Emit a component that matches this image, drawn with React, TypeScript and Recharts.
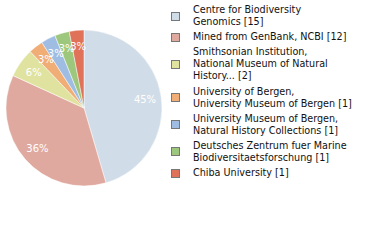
import { PieChart, Pie, Cell, Legend } from 'recharts';

const labels = [
  'Centre for Biodiversity\nGenomics [15]',
  'Mined from GenBank, NCBI [12]',
  'Smithsonian Institution,\nNational Museum of Natural\nHistory... [2]',
  'University of Bergen,\nUniversity Museum of Bergen [1]',
  'University Museum of Bergen,\nNatural History Collections [1]',
  'Deutsches Zentrum fuer Marine\nBiodiversitaetsforschung [1]',
  'Chiba University [1]',
];
const counts = [15, 12, 2, 1, 1, 1, 1];
const colors = ['#d0dce7', '#e0a99f', '#dfe39f', '#f0ad75', '#9fbde2', '#9cc77c', '#df7258'];

const total = counts.reduce((a, b) => a + b, 0);
const data = labels.map((name, i) => ({ name, value: counts[i] }));

const RAD = Math.PI / 180;

const renderLabel = (props: any) => {
  const { cx, cy, midAngle, outerRadius, value } = props;
  const r = outerRadius * 0.79;
  const x = cx + r * Math.cos(-midAngle * RAD);
  const y = cy + r * Math.sin(-midAngle * RAD);
  return (
    <text
      x={x}
      y={y}
      fill="#fff"
      textAnchor="middle"
      dominantBaseline="central"
      fontSize={10}
      fontFamily="DejaVu Sans"
    >
      {`${Math.round((value / total) * 100)}%`}
    </text>
  );
};

const renderLegend = () => (
  <div style={{ fontFamily: 'DejaVu Sans Condensed', fontSize: 10.7, color: '#111' }}>
    {data.map((d, i) => (
      <div key={i} style={{ display: 'flex', alignItems: 'center', marginBottom: 3.2 }}>
        <div
          style={{
            width: 7,
            height: 7,
            background: colors[i],
            border: '1px solid #777',
            marginRight: 13,
            flexShrink: 0,
          }}
        />
        <div style={{ whiteSpace: 'pre', lineHeight: '12px' }}>{d.name}</div>
      </div>
    ))}
  </div>
);

export default function App() {
  return (
    <div style={{ position: 'absolute', left: 0, top: 0, width: 380, height: 240, background: '#fff' }}>
      <PieChart width={380} height={240} margin={{ top: 0, right: 0, bottom: 0, left: 0 }}>
        <Pie
          data={data}
          dataKey="value"
          cx={84}
          cy={108}
          outerRadius={78}
          startAngle={90}
          endAngle={-270}
          stroke="#fff"
          strokeWidth={0.5}
          label={renderLabel}
          labelLine={false}
          isAnimationActive={false}
        >
          {data.map((_, i) => (
            <Cell key={i} fill={colors[i]} />
          ))}
        </Pie>
        <Legend
          content={renderLegend}
          wrapperStyle={{ position: 'absolute', left: 171, top: 4, width: 209 }}
        />
      </PieChart>
    </div>
  );
}
